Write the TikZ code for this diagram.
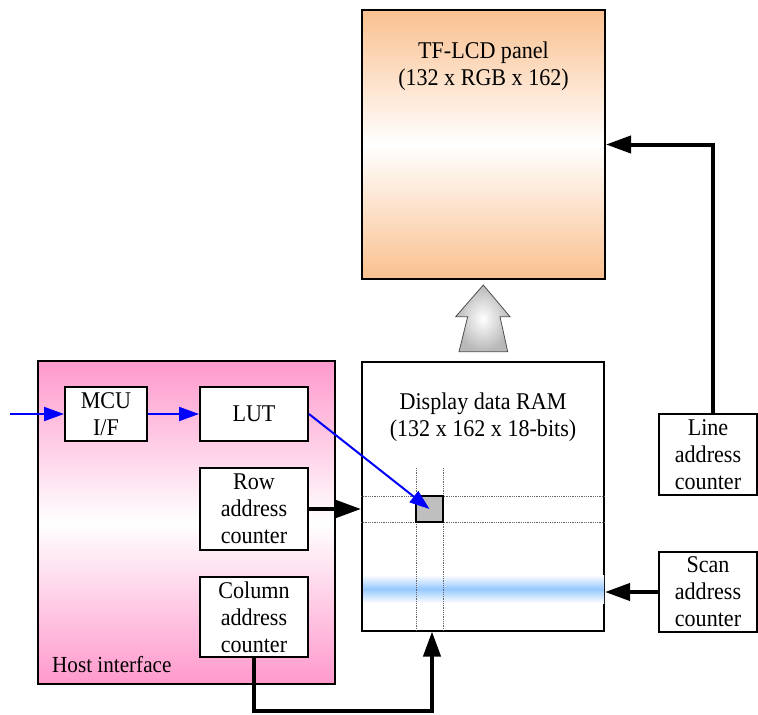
\documentclass[tikz,border=0pt]{standalone}
\usepackage{fontspec}
\setmainfont{Liberation Serif}[FakeStretch=0.92]
\usetikzlibrary{arrows.meta,calc}
\definecolor{peach}{RGB}{250,192,143}
\definecolor{pinkk}{RGB}{255,153,204}
\definecolor{bandblue}{RGB}{150,200,255}
\definecolor{pureblue}{RGB}{0,0,255}
\begin{document}
\begin{tikzpicture}[x=1pt,y=-1pt,
  txt/.style={align=center,font=\fontsize{24}{27}\selectfont,inner sep=0pt},
  box/.style={draw,line width=2pt,fill=white,align=center,inner sep=0pt,font=\fontsize{24}{27}\selectfont},
  thickarrow/.style={line width=4pt,-{Triangle[length=25pt,width=17pt]}},
  bluearrow/.style={draw=pureblue,line width=2pt,-{Triangle[length=20pt,width=14pt]},pureblue},
  gridline/.style={draw=black!60,densely dotted,line width=0.8pt}]
\useasboundingbox (0,0) rectangle (758,715);
% TF-LCD panel
\node[draw,line width=2pt,minimum width=243pt,minimum height=269pt,inner sep=0pt,
  top color=peach,bottom color=peach,middle color=white] (panel) at (483.5,144.5) {};
\node[txt] (paneltxt) at (483.5,66) {TF-LCD panel\\(132 x RGB x 162)};
% big arrow
\shade[inner color=white,outer color=black!28,draw=black!70,line width=0.8pt]
  (483.3,285) -- (510,316.7) -- (500,316.7) -- (507.7,351.7) -- (459,351.7)
  -- (467.7,316.7) -- (455.7,316.7) -- cycle;
% Display data RAM
\node[draw,line width=2pt,fill=white,minimum width=242pt,minimum height=269pt,inner sep=0pt] (ram) at (483,496) {};
\shade[top color=white,bottom color=white,middle color=bandblue] (363,575) rectangle (604,603);
\node[txt] (ramtxt) at (483,417) {Display data RAM\\(132 x 162 x 18-bits)};
\draw[gridline] (ram.west |- 0,496) -- (ram.east |- 0,496);
\draw[gridline] (ram.west |- 0,522) -- (ram.east |- 0,522);
\draw[gridline] (416,468) -- (416 ,631);
\draw[gridline] (443,468) -- (443,631);
\node[draw,line width=2pt,fill=black!25,minimum width=27pt,minimum height=26pt,inner sep=0pt] (cell) at (429.5,509) {};
% Host interface
\node[draw,line width=2pt,minimum width=297pt,minimum height=323pt,inner sep=0pt,
  top color=pinkk,bottom color=pinkk,middle color=white] (host) at (186.5,522.5) {};
\node[anchor=base west,inner sep=0pt,font=\fontsize{23}{27}\selectfont] (hosttxt) at (52,672) {Host interface};
\node[box,minimum width=82pt,minimum height=54pt] (mcu) at (106,414) {MCU\\I/F};
\node[box,minimum width=108pt,minimum height=54pt] (lut) at (254,414) {LUT};
\node[box,minimum width=108pt,minimum height=82pt] (row) at (254,509) {Row\\address\\counter};
\node[box,minimum width=108pt,minimum height=80pt] (col) at (254,617) {Column\\address\\counter};
% right counters
\node[box,minimum width=98pt,minimum height=81pt] (line) at (708,454.5) {Line\\address\\counter};
\node[box,minimum width=98pt,minimum height=80pt] (scan) at (708,592) {Scan\\address\\counter};
% connectors
\coordinate (in) at (10,414);
\draw[bluearrow] (in) -- (mcu.west);
\draw[bluearrow] (mcu.east) -- (lut.east -| lut.west);
\draw[bluearrow] (lut.east) -- (cell.center);
\draw[thickarrow] (row.east) -- (row.east -| ram.west);
\coordinate (bend) at (432,711);
\draw[thickarrow] (col.south) |- (bend) -- (bend |- ram.south);
\draw[thickarrow] ([xshift=5pt]line.north) |- (panel.east);
\draw[thickarrow] (scan.west) -- (scan.west -| ram.east);
\end{tikzpicture}
\end{document}
